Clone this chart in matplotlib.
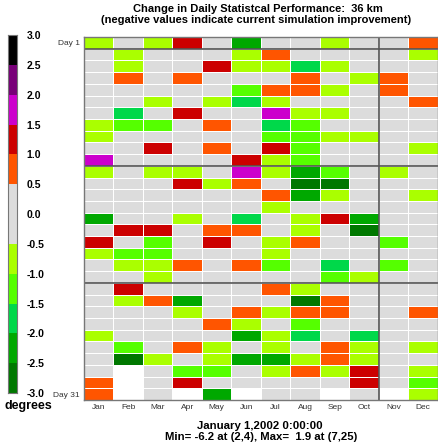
import numpy as np
import matplotlib
matplotlib.use('Agg')
import matplotlib.pyplot as plt
from matplotlib.colors import ListedColormap, BoundaryNorm

plt.rcParams['font.family'] = ['Liberation Sans', 'DejaVu Sans']

# Daily change in statistical performance (degrees), one list per month, day 1..31
# nan = day does not exist
nan = np.nan
jan = [-0.8, 0, 0, 0, 0, 0, 0, -0.7, -0.8, 0, 1.7, -0.8, 0, 0, 0, -2.2, 0, 1.2, -0.7, 0,
       0, 0, 0, 0, 0, -0.8, 0, 0, 0, 0.8, 0.7]
feb = [0, -0.8, -0.7, 0.8, 0, 0, -1.8, -1.2, 0, 0, 0, 0, 0, 0, 0, 0, 1.3, 0, -1.3, -0.8,
       0, 1.2, -0.7, 0, 0, 0, -1.3, -6.2, nan, nan, nan]
mar = [-0.7, 0, 0, 0, 0, -0.8, 0, -1.3, 0, 1.2, 0, -0.7, 0, 0, 0, 0, 1.3, -1.2, -1.3, -0.8,
       -0.7, 0, 0.8, 0, 0, 0, 0, -0.8, 0, 0, 0]
apr = [1.2, 0, 0, 0.7, 0, 0, 1.3, 0, 0, 0, 0, -0.8, 1.2, 0, 0, -0.7, 0, 0, 0, 0.8,
       0, 0, -2.3, -0.7, 0, 0, 0.7, 0, -1.2, 1.3, nan]
may = [0, 0, 1.2, 0, 0, -0.8, 0, 0.8, 0, 0.7, 0, 0, -0.7, 0, 0, 0, 0.8, 1.2, 0, 0,
       0, 0, 0, 0, 0.7, 0, -0.8, -0.7, -1.3, 0, -2.2]
jun = [-2.3, -0.8, -0.7, 0, -1.2, -1.8, 0, 0, 0, 0, 1.2, 1.6, 0.8, 0, 0, -1.7, 0.7, 0, 0, 0.8,
       0, 0, 0, 0.7, -0.8, -2.2, 0, -2.3, 0, 0, nan]
jul = [0, 0.8, -0.8, 0, 0.7, -0.7, 1.9, -1.8, -1.2, 1.3, -0.8, -0.7, 0, 0.8, -0.7, 0, 0, -0.8, -0.7, -1.3,
       0, 0.7, 0, -0.8, 0, -0.7, -0.8, -2.3, -0.7, 0, 0]
aug = [0, 0, -1.7, 0.8, 0.7, 0, -0.8, -1.2, -1.3, -1.2, -1.3, -2.2, -2.8, -2.3, 0, -0.7, -0.8, 0.7, 0, 0,
       0, -0.8, -2.7, 0.8, -1.2, -1.8, 0, -0.7, 0.8, 0, 0]
sep = [-0.8, 0, -0.7, 0, -0.8, 0, -0.7, 0, -0.8, 0, 0, -1.2, -2.7, -0.8, 0, 1.2, 0, 0, 0, -1.8,
       -1.3, 0, 0.8, 0.7, 0, 0, 0.8, 0.7, -0.8, 0, nan]
oct_ = [0, 0, 0, -0.7, 0, 0, 0, 0, -0.8, 0, 0, 0, 0, 0, 0, -2.3, -2.8, 0, 0, 0,
        -0.7, 0, 0, 0, 0, -1.8, -0.8, -0.7, 1.2, 1.3, 0]
nov = [0, 0, 0, 0.8, 0.7, 0, 0, 0, 0, 0, 0, -0.8, 0, 0, 0, 0, 0, -1.2, 0, -1.3,
       0, 0, 0, 0, 0, 0, 0, 0, 0, 0, nan]
dec = [0.8, -0.7, 0, 0, 0, 0.7, 0, 0, 0, -0.8, 0, 0, 0, -0.7, 0, 0, 0, 0, 0, 0,
       0, 0, 0, 0.8, 0, 0, -0.8, 0, -0.7, -1.2, -0.8]

months = ['Jan', 'Feb', 'Mar', 'Apr', 'May', 'Jun', 'Jul', 'Aug', 'Sep', 'Oct', 'Nov', 'Dec']
levels = [-3.0, -2.5, -2.0, -1.5, -1.0, -0.5, 0.5, 1.0, 1.5, 2.0, 2.5, 3.0]
level_labels = ['-3.0', '-2.5', '-2.0', '-1.5', '-1.0', '-0.5', '0.0', '0.5', '1.0', '1.5', '2.0', '2.5', '3.0']
level_ticks = [-3.0, -2.5, -2.0, -1.5, -1.0, -0.5, 0.0, 0.5, 1.0, 1.5, 2.0, 2.5, 3.0]

colors = ['#007800', '#00a800', '#00d84a', '#55ff00', '#aaff00', '#dcdcdc',
          '#ff5500', '#cc0000', '#cc00cc', '#780078', '#000000']
cmap = ListedColormap(colors)
cmap.set_bad('white')
norm = BoundaryNorm(levels, cmap.N, clip=True)

data = np.array([jan, feb, mar, apr, may, jun, jul, aug, sep, oct_, nov, dec]).T  # (31, 12)
data = np.ma.masked_invalid(data)

fig = plt.figure(figsize=(4.39, 4.48), dpi=100)

# main grid
ax = fig.add_axes([84 / 439, 1 - 400 / 448, 354 / 439, 363 / 448])
ax.pcolormesh(np.arange(13), np.arange(32), data, cmap=cmap, norm=norm,
              edgecolor='white', linewidth=0.7)
ax.set_xlim(0, 12)
ax.set_ylim(31, 0)
for d in [1, 11, 21]:
    ax.axhline(d, color='#555555', lw=1.2)
ax.axvline(10, color='#555555', lw=1.2)
for s in ax.spines.values():
    s.set_color('#777777')
    s.set_linewidth(1.0)

ax.set_xticks(np.arange(12) + 0.5)
ax.set_xticklabels(months, fontsize=6, color='#333333')
ax.set_yticks([0.5, 30.5])
ax.set_yticklabels(['Day 1', 'Day 31'], fontsize=6, color='#333333')
ax.tick_params(length=0, pad=3)

# colour bar
cax = fig.add_axes([8 / 439, 1 - 393 / 448, 9 / 439, 358 / 448])
cb_vals = np.array([(levels[i] + levels[i + 1]) / 2 for i in range(len(levels) - 1)])
cax.pcolormesh([0, 1], levels, cb_vals.reshape(-1, 1), cmap=cmap, norm=norm)
cax.set_xlim(0, 1)
cax.set_ylim(-3, 3)
cax.set_xticks([])
cax.yaxis.tick_right()
cax.set_yticks(level_ticks)
cax.set_yticklabels(level_labels, fontsize=7.5, fontweight='bold')
cax.tick_params(axis='y', length=0, pad=7)
for s in cax.spines.values():
    s.set_color('#777777')
fig.text(28 / 439, 1 - 406 / 448, 'degrees', fontsize=9, fontweight='bold', ha='center', va='center')

# titles
fig.text(258 / 439, 1 - 9 / 448, 'Change in Daily Statistcal Performance:  36 km',
         fontsize=8, fontweight='bold', ha='center', va='center')
fig.text(256 / 439, 1 - 20 / 448, '(negative values indicate current simulation improvement)',
         fontsize=8, fontweight='bold', ha='center', va='center')
fig.text(260 / 439, 1 - 426 / 448, 'January 1,2002 0:00:00',
         fontsize=8.2, fontweight='bold', ha='center', va='center')
fig.text(261 / 439, 1 - 437 / 448, 'Min= -6.2 at (2,4), Max=  1.9 at (7,25)',
         fontsize=8.2, fontweight='bold', ha='center', va='center')

fig.savefig('out.png', dpi=100)
